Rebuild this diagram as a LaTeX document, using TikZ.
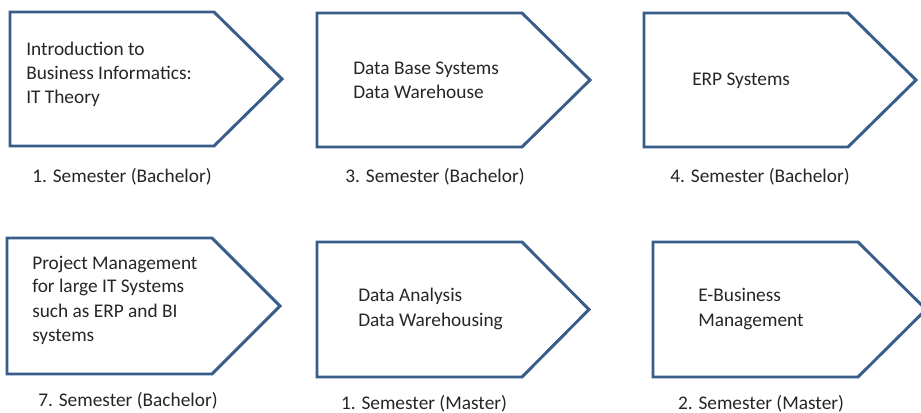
\documentclass[tikz,border=0pt]{standalone}
\usepackage{fontspec}
\setmainfont{Carlito}
\definecolor{edgeblue}{RGB}{56,93,138}
\begin{document}
\begin{tikzpicture}[x=0.75pt,y=-0.75pt,
  chev/.style={draw=edgeblue,line width=2.2pt,line join=miter,fill=white},
  boxtext/.style={anchor=base west,inner sep=0pt,align=left,font=\fontsize{14.5}{18}\selectfont,text=black!85},
  semlabel/.style={anchor=base,inner sep=0pt,font=\fontsize{14.5}{18}\selectfont,text=black!85}]
\useasboundingbox[fill=white] (0,0) rectangle (921,413);
% row 1
\draw[chev] (10,12) -- (214,12) -- (282,79) -- (214,146) -- (10,146) -- cycle;
\draw[chev] (317,13) -- (522,13) -- (590,80) -- (522,147) -- (317,147) -- cycle;
\draw[chev] (644,13) -- (848,13) -- (916,80) -- (848,147) -- (644,147) -- cycle;
% row 2
\draw[chev] (7,238) -- (212,238) -- (280,306) -- (212,374) -- (7,374) -- cycle;
\draw[chev] (317,242) -- (522,242) -- (589,309.5) -- (522,377) -- (317,377) -- cycle;
\draw[chev] (653,242) -- (858,242) -- (926,309.5) -- (858,377) -- (653,377) -- cycle;
% box texts (anchored at the baseline of the last line)
\node[boxtext] (t1) at (26,104) {Introduction to\\Business Informatics:\\IT Theory};
\node[boxtext] (t2) at (353,99) {Data Base Systems\\Data Warehouse};
\node[boxtext] (t3) at (692,86) {ERP Systems};
\node[boxtext] (t4) at (32,341) {Project Management\\for large IT Systems\\such as ERP and BI\\systems};
\node[boxtext] (t5) at (358,326) {Data Analysis\\Data Warehousing};
\node[boxtext] (t6) at (698,326) {E-Business\\Management};
% semester labels
\node[semlabel] (s1) at (122,183) {1. Semester (Bachelor)};
\node[semlabel] (s2) at (435,183) {3. Semester (Bachelor)};
\node[semlabel] (s3) at (760,183) {4. Semester (Bachelor)};
\node[semlabel] (s4) at (128,406) {7. Semester (Bachelor)};
\node[semlabel] (s5) at (424,409) {1. Semester (Master)};
\node[semlabel] (s6) at (761,409) {2. Semester (Master)};
\end{tikzpicture}
\end{document}
